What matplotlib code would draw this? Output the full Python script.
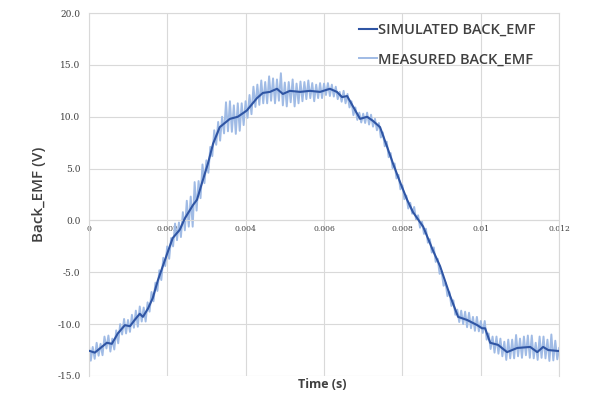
import numpy as np
import matplotlib.pyplot as plt

# simulated back-EMF (time in s, volts)
sim_t = [0.0, 0.000153, 0.00046, 0.000587, 0.00074, 0.00092, 0.00105, 0.00117, 0.0013, 0.00138,
         0.00151, 0.00163, 0.00176, 0.00199, 0.00214, 0.00232, 0.00245, 0.00266, 0.00276, 0.00291,
         0.00304, 0.00317, 0.00334, 0.0036, 0.0038, 0.00403, 0.00429, 0.00444, 0.00462, 0.0048,
         0.00495, 0.00513, 0.00539, 0.00564, 0.0059, 0.00615, 0.00633, 0.00646, 0.00659, 0.00674,
         0.00692, 0.0071, 0.00725, 0.00743, 0.00761, 0.00776, 0.00794, 0.00812, 0.00827, 0.00853,
         0.00878, 0.00896, 0.00922, 0.00942, 0.00965, 0.00991, 0.01003, 0.01011, 0.01024, 0.01044,
         0.01067, 0.01093, 0.01126, 0.01144, 0.01159, 0.01172, 0.012]
sim_v = [-12.56, -12.75, -11.8, -11.9, -10.9, -10.1, -10.2, -9.6, -9.0, -9.3,
         -8.5, -7.5, -5.8, -3.3, -1.7, -0.9, 0.2, 1.5, 2.0, 3.9,
         5.5, 7.4, 9.0, 9.8, 10.0, 10.6, 11.8, 12.3, 12.4, 12.7,
         12.2, 12.5, 12.4, 12.5, 12.4, 12.7, 12.4, 11.9, 12.0, 11.0,
         9.8, 10.0, 9.6, 9.0, 7.1, 5.5, 3.7, 2.0, 0.8, -0.6,
         -2.9, -4.4, -7.3, -9.3, -9.6, -10.1, -10.4, -10.4, -11.8, -12.0,
         -12.7, -12.3, -12.2, -12.7, -12.2, -12.5, -12.6]

# measured back-EMF, sampled every 0.05 ms
meas_v = [
    -11.96, -13.53, -12.2, -13.35, -11.8, -13.05, -11.9, -13.0, -11.2, -12.35,
    -11.1, -12.65, -11.4, -12.45, -10.6, -11.85, -10.0, -11.0, -9.5, -10.9,
    -9.6, -10.75, -9.1, -10.35, -8.7, -10.25, -8.3, -9.75, -8.4, -9.75,
    -7.9, -8.8, -6.9, -7.8, -6.0, -6.8, -4.8, -5.75, -3.6, -4.4,
    -2.5, -3.7, -1.7, -2.5, -0.3, -1.9, -0.2, -1.6, 0.8, -0.95,
    1.9, -0.6, 2.3, -0.6, 3.7, 0.95, 3.8, 2.15, 5.4, 3.6,
    5.8, 4.6, 7.1, 6.2, 8.7, 7.3, 9.5, 7.7, 10.0, 8.4,
    11.4, 8.6, 11.5, 8.55, 11.1, 8.35, 11.3, 8.65, 11.3, 9.2,
    11.5, 9.9, 12.1, 10.25, 12.9, 10.95, 13.1, 11.15, 13.5, 11.3,
    13.35, 11.3, 13.9, 11.55, 13.7, 11.3, 13.6, 11.55, 14.2, 11.1,
    13.3, 11.0, 13.35, 11.4, 13.6, 11.0, 13.2, 11.3, 13.4, 11.5,
    13.35, 11.7, 13.5, 11.8, 13.25, 11.5, 13.1, 11.8, 13.25, 11.8,
    13.2, 12.1, 13.25, 12.0, 13.1, 11.95, 12.9, 11.7, 12.4, 11.45,
    12.5, 11.3, 12.2, 10.9, 11.5, 10.15, 10.9, 9.7, 10.4, 9.45,
    10.3, 9.4, 10.4, 9.25, 10.2, 9.05, 9.8, 8.7, 9.4, 8.0,
    8.5, 7.15, 7.6, 6.1, 6.5, 5.05, 5.5, 4.05, 4.4, 3.0,
    3.4, 2.05, 2.4, 1.15, 1.7, 0.65, 1.3, 0.05, 0.5, -0.7,
    -0.1, -1.3, -0.8, -2.15, -1.8, -3.1, -2.6, -4.0, -3.7, -5.15,
    -4.9, -6.3, -6.0, -7.3, -6.9, -8.25, -7.7, -9.1, -8.6, -9.8,
    -8.7, -10.0, -8.8, -10.3, -8.9, -10.4, -9.3, -10.65, -9.3, -10.7,
    -9.7, -10.85, -9.7, -11.5, -10.9, -12.4, -11.2, -12.75, -11.2, -12.85,
    -11.4, -13.1, -11.7, -13.45, -11.5, -13.3, -11.5, -13.3, -11.05, -13.1,
    -11.4, -13.25, -11.2, -13.0, -11.1, -13.25, -11.1, -13.3, -11.8, -13.45,
    -11.2, -13.25, -11.2, -13.3, -11.5, -13.55, -11.0, -13.5, -11.6, -13.4,
    -12.3]
meas_t = np.linspace(0, 0.012, len(meas_v))

x_ticks = [0, 0.002, 0.004, 0.006, 0.008, 0.01, 0.012]
x_labels = ['0', '0.002', '0.004', '0.006', '0.008', '0.01', '0.012']
y_ticks = [-15, -10, -5, 0, 5, 10, 15, 20]

fig = plt.figure(figsize=(6, 3.97), dpi=100)
ax = fig.add_axes([0.148, 0.053, 0.784, 0.914])

ax.plot(meas_t, meas_v, color='#a0bbe5', lw=1.4, label='MEASURED BACK_EMF', zorder=2)
ax.plot(sim_t, sim_v, color='#2f55a4', lw=1.5, label='SIMULATED BACK_EMF', zorder=3)

for s in ax.spines.values():
    s.set_color('#d9d9d9')
    s.set_linewidth(0.8)
ax.spines['bottom'].set_position(('data', 0))

ax.set_xlim(0, 0.012)
ax.set_ylim(-15, 20)
ax.set_xticks(x_ticks)
ax.set_xticklabels(x_labels, fontsize=5.5, family='DejaVu Serif', color='#404040')
ax.set_yticks(y_ticks)
ax.set_yticklabels(['%.1f' % v for v in y_ticks], fontsize=6.5, family='DejaVu Serif', color='#404040')
ax.tick_params(axis='y', length=0, pad=6)
ax.tick_params(axis='x', length=0, pad=3)
ax.grid(True, color='#d9d9d9', lw=0.8)
ax.set_axisbelow(True)

ax.set_ylabel('Back_EMF (V)', fontsize=11, fontweight='semibold', color='#404040',
              family='Open Sans', labelpad=8)
fig.text(0.537, 0.015, 'Time (s)', fontsize=9, fontweight='bold', color='#404040',
         family='Open Sans', ha='center', va='bottom')

h, l = ax.get_legend_handles_labels()
leg = ax.legend(h[::-1], l[::-1], loc='upper right', bbox_to_anchor=(0.915, 0.975),
                bbox_transform=fig.transFigure, frameon=False, handlelength=1.2,
                handletextpad=0.1, labelspacing=1.05,
                prop={'family': 'Open Sans', 'size': 10.5, 'weight': 'semibold'})
for t in leg.get_texts():
    t.set_color('#404040')

fig.savefig('out.png', dpi=100)
